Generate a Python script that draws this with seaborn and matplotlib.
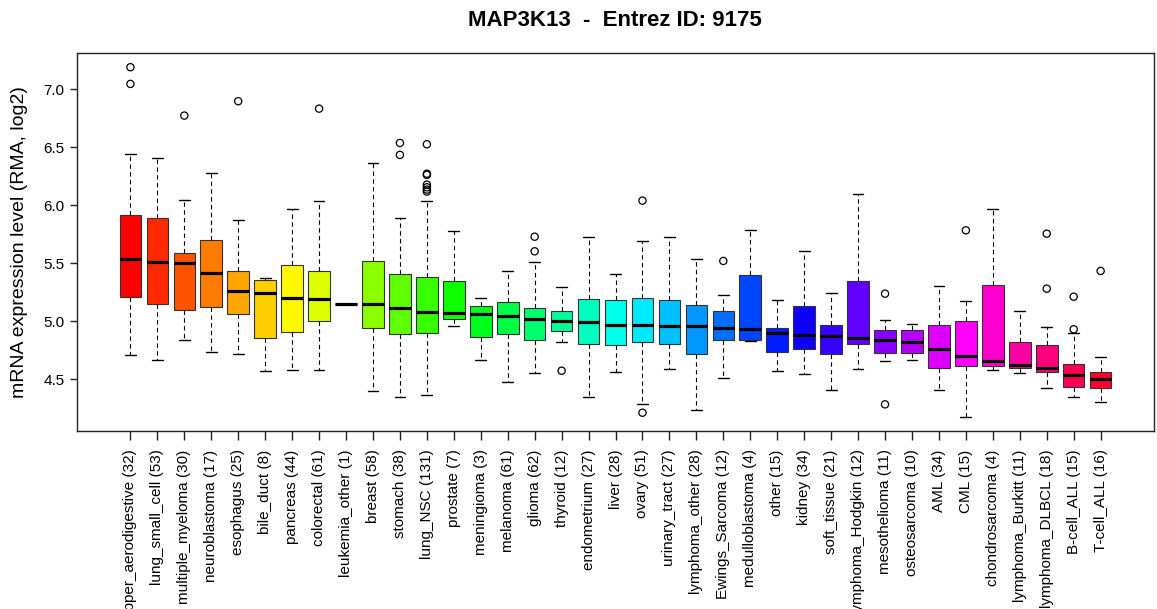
import colorsys

import matplotlib
matplotlib.use("Agg")
import matplotlib.pyplot as plt
import pandas as pd
import seaborn as sns

# Tissue / lineage groups and sample counts
tissues = [
    "upper_aerodigestive", "lung_small_cell", "multiple_myeloma", "neuroblastoma",
    "esophagus", "bile_duct", "pancreas", "colorectal", "leukemia_other", "breast",
    "stomach", "lung_NSC", "prostate", "meningioma", "melanoma", "glioma", "thyroid",
    "endometrium", "liver", "ovary", "urinary_tract", "lymphoma_other",
    "Ewings_Sarcoma", "medulloblastoma", "other", "kidney", "soft_tissue",
    "lymphoma_Hodgkin", "mesothelioma", "osteosarcoma", "AML", "CML",
    "chondrosarcoma", "lymphoma_Burkitt", "lymphoma_DLBCL", "B-cell_ALL", "T-cell_ALL",
]
counts = [32, 53, 30, 17, 25, 8, 44, 61, 1, 58, 38, 131, 7, 3, 61, 62, 12, 27, 28,
          51, 27, 28, 12, 4, 15, 34, 21, 12, 11, 10, 34, 15, 4, 11, 18, 15, 16]

# Five-number summaries of MAP3K13 expression (RMA, log2)
whisker_low = [4.712, 4.664, 4.836, 4.733, 4.716, 4.572, 4.583, 4.583, 5.152, 4.399,
               4.350, 4.362, 4.962, 4.666, 4.477, 4.554, 4.819, 4.350, 4.563, 4.287,
               4.589, 4.238, 4.511, 4.832, 4.572, 4.543, 4.408, 4.586, 4.655, 4.666,
               4.405, 4.175, 4.583, 4.552, 4.422, 4.345, 4.302]
quartile_1 = [5.210, 5.152, 5.097, 5.121, 5.060, 4.859, 4.905, 5.000, 5.152, 4.940,
              4.888, 4.899, 5.017, 4.867, 4.891, 4.839, 4.919, 4.804, 4.796, 4.822,
              4.802, 4.721, 4.839, 4.836, 4.735, 4.764, 4.716, 4.804, 4.727, 4.724,
              4.597, 4.612, 4.615, 4.600, 4.560, 4.431, 4.428]
medians = [5.534, 5.509, 5.500, 5.414, 5.264, 5.244, 5.203, 5.190, 5.152, 5.147,
           5.117, 5.083, 5.072, 5.066, 5.048, 5.022, 5.005, 4.994, 4.971, 4.971,
           4.962, 4.957, 4.940, 4.931, 4.897, 4.879, 4.876, 4.853, 4.841, 4.819,
           4.764, 4.703, 4.655, 4.623, 4.595, 4.537, 4.505]
quartile_3 = [5.916, 5.888, 5.592, 5.704, 5.434, 5.353, 5.483, 5.434, 5.152, 5.517,
              5.405, 5.384, 5.345, 5.133, 5.169, 5.112, 5.086, 5.195, 5.184, 5.198,
              5.184, 5.138, 5.086, 5.399, 4.942, 5.132, 4.966, 5.347, 4.922, 4.925,
              4.968, 5.005, 5.316, 4.819, 4.793, 4.629, 4.560]
whisker_high = [6.445, 6.410, 6.046, 6.281, 5.873, 5.371, 5.966, 6.037, 5.152, 6.362,
                5.891, 6.040, 5.781, 5.201, 5.436, 5.514, 5.296, 5.724, 5.410, 5.692,
                5.724, 5.537, 5.229, 5.784, 5.186, 5.606, 5.244, 6.097, 5.009, 4.980,
                5.304, 5.178, 5.966, 5.086, 4.948, 4.897, 4.695]

# Outlying samples
outlier_tissue = [
    "upper_aerodigestive", "upper_aerodigestive", "multiple_myeloma", "esophagus",
    "colorectal", "stomach", "stomach",
    "lung_NSC", "lung_NSC", "lung_NSC", "lung_NSC", "lung_NSC", "lung_NSC", "lung_NSC",
    "glioma", "glioma", "thyroid", "ovary", "ovary", "Ewings_Sarcoma",
    "mesothelioma", "mesothelioma", "CML", "lymphoma_DLBCL", "lymphoma_DLBCL",
    "B-cell_ALL", "B-cell_ALL", "T-cell_ALL",
]
outlier_value = [
    7.190, 7.046, 6.773, 6.897,
    6.833, 6.537, 6.434,
    6.526, 6.272, 6.262, 6.178, 6.155, 6.135, 6.118,
    5.729, 5.603, 4.574, 6.040, 4.212, 5.520,
    5.238, 4.284, 5.784, 5.755, 5.281,
    5.212, 4.931, 5.434,
]

labels = [f"{t} ({n})" for t, n in zip(tissues, counts)]
label_of = dict(zip(tissues, labels))

# Long-form table: each group carries its five summary values
summary = pd.DataFrame({
    "label": labels * 5,
    "value": whisker_low + quartile_1 + medians + quartile_3 + whisker_high,
})
outliers = pd.DataFrame({
    "label": [label_of[t] for t in outlier_tissue],
    "value": outlier_value,
})

# Rainbow fill, one hue step per group
n = len(labels)
fills = [colorsys.hsv_to_rgb(i / n, 1.0, 1.0) for i in range(n)]

sns.set_style("ticks")
plt.rcParams["font.family"] = ["Liberation Sans", "DejaVu Sans"]
plt.rcParams["axes.linewidth"] = 1.0
plt.rcParams["axes.edgecolor"] = "#222222"
plt.rcParams["text.color"] = "black"
plt.rcParams["axes.labelcolor"] = "black"
plt.rcParams["xtick.color"] = "#222222"
plt.rcParams["ytick.color"] = "#222222"
plt.rcParams["xtick.labelcolor"] = "black"
plt.rcParams["ytick.labelcolor"] = "black"

fig = plt.figure(figsize=(11.57, 6.09), dpi=100)
ax = fig.add_axes([0.0666, 0.2928, 0.9308, 0.6197])

sns.boxplot(
    data=summary, x="label", y="value", order=labels,
    hue="label", hue_order=labels, palette=fills, saturation=1, legend=False,
    whis=(0, 100), width=0.8, linecolor="#333333", linewidth=0.8,
    medianprops={"color": "black", "linewidth": 2.3},
    whiskerprops={"color": "black", "linewidth": 0.8, "linestyle": (0, (4, 3))},
    capprops={"color": "black", "linewidth": 1.0},
    ax=ax,
)

before = len(ax.collections)
sns.stripplot(
    data=outliers, x="label", y="value", order=labels,
    jitter=False, color="black", size=5.2, ax=ax,
)
for coll in ax.collections[before:]:
    coll.set_facecolor("none")
    coll.set_edgecolor("black")
    coll.set_linewidth(0.9)

pad = 0.04 * n
ax.set_xlim(-0.5 - pad, n - 0.5 + pad)
ax.set_ylim(4.057, 7.31)
ax.set_yticks([4.5, 5.0, 5.5, 6.0, 6.5, 7.0])
ax.set_yticklabels(["4.5", "5.0", "5.5", "6.0", "6.5", "7.0"])

ax.tick_params(axis="x", labelrotation=90, labelsize=11, length=6.5, width=1,
               pad=7)
ax.tick_params(axis="y", labelsize=11, length=5, width=1, pad=4)
for spine in ax.spines.values():
    spine.set_visible(True)

ax.set_xlabel("")
ax.set_ylabel("mRNA expression level (RMA, log2)", fontsize=14)
ax.yaxis.set_label_coords(-0.046, 0.5)

fig.text(0.5316, 0.967, "MAP3K13  -  Entrez ID: 9175", ha="center", va="center",
         fontsize=16, fontweight="bold")

fig.savefig("out.png", dpi=100)
